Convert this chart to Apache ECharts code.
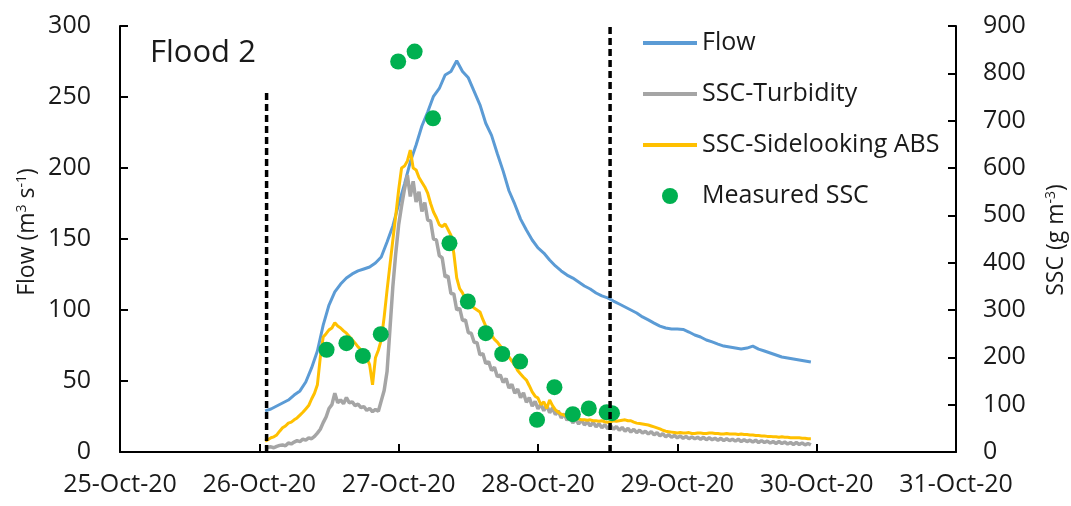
<!DOCTYPE html>
<html>
<head>
<meta charset="utf-8">
<script src="https://cdn.jsdelivr.net/npm/echarts@6/dist/echarts.min.js"></script>
<style>
  html, body { margin: 0; padding: 0; background: #fff; }
  #chart { width: 1071px; height: 506px; }
</style>
</head>
<body>
<div id="chart"></div>
<script>
// ---- time frame (UTC) ----
const HOUR = 3600000;
const DAY = 86400000;
const xStart = Date.UTC(2020, 9, 25);
const xEnd = Date.UTC(2020, 9, 31);

// Flow, hourly from 26-Oct-20 01:00 (m3 s-1)
const flowStart = Date.UTC(2020, 9, 26, 1);
const flowStepHours = 1;
const flow = [
  29.0, 30.3, 32.4, 34.5, 36.6, 40.1, 43.0, 49.3, 59.2, 71.1,
  89.4, 103.5, 112.7, 118.3, 122.5, 125.4, 127.5, 128.9, 130.3, 133.1,
  137.3, 147.9, 159.2, 174.6, 188.7, 204.2, 216.2, 229.6, 239.4, 250.5,
  256.0, 265.5, 268.0, 275.5, 268.0, 263.5, 254.0, 244.5, 231.5, 223.0,
  210.0, 197.8, 184.0, 174.5, 164.0, 156.3, 149.3, 143.7, 140.1, 135.2,
  131.0, 127.5, 124.6, 122.5, 119.7, 116.9, 114.8, 112.0, 109.9, 108.5,
  106.3, 104.2, 102.1, 100.0, 97.9, 95.1, 93.0, 90.8, 88.7, 87.3,
  86.6, 86.6, 86.3, 84.5, 82.4, 81.0, 78.9, 77.5, 76.0, 74.6,
  73.9, 73.2, 72.5, 73.2, 74.6, 72.5, 71.1, 69.7, 68.3, 66.9,
  66.2, 65.5, 64.8, 64.1, 63.4
];

// SSC series, half-hourly from 26-Oct-20 01:00 (g m-3)
const sscStart = Date.UTC(2020, 9, 26, 1);
const sscStepHours = 0.5;
const sscTurbidity = [
  8, 10, 11, 9, 12, 14, 15, 13, 19, 17,
  21, 24, 22, 27, 25, 30, 28, 33, 40, 48,
  62, 74, 92, 100, 124, 104, 110, 102, 115, 104,
  106, 98, 101, 94, 96, 88, 92, 85, 90, 86,
  108, 130, 170, 260, 350, 420, 480, 520, 555, 585,
  540, 572, 528, 550, 508, 527, 490, 488, 450, 448,
  415, 410, 370, 372, 335, 334, 300, 304, 278, 279,
  252, 251, 232, 231, 205, 208, 187, 191, 172, 179,
  159, 163, 147, 155, 135, 143, 124, 133, 115, 125,
  105, 115, 97, 107, 91, 101, 87, 99, 83, 93,
  79, 87, 72, 81, 67, 75, 61, 70, 59, 68,
  57, 64, 55, 63, 53, 60, 51, 58, 49, 56,
  48, 54, 46, 52, 44, 50, 42, 48, 41, 46,
  40, 44, 38, 43, 36, 41, 34, 39, 32, 37,
  31, 35, 30, 34, 29, 33, 28, 32, 28, 31,
  27, 31, 26, 30, 26, 29, 25, 29, 24, 28,
  24, 27, 23, 27, 22, 26, 22, 25, 21, 25,
  20, 24, 20, 23, 19, 22, 18, 22, 18, 21,
  17, 20, 16, 20, 16, 19, 15, 18, 15
];
const sscSidelooking = [
  23, 26, 30, 32, 36, 44, 51, 55, 61, 63,
  68, 72, 78, 84, 91, 98, 112, 124, 142, 200,
  243, 250, 258, 262, 273, 266, 262, 256, 251, 244,
  237, 230, 222, 216, 211, 200, 184, 142, 199, 215,
  237, 285, 342, 395, 448, 500, 554, 600, 604, 615,
  638, 600, 596, 580, 570, 560, 547, 525, 507, 495,
  480, 476, 482, 470, 458, 420, 368, 345, 336, 322,
  317, 310, 304, 300, 296, 280, 266, 255, 247, 238,
  232, 224, 216, 207, 201, 192, 184, 172, 165, 158,
  152, 140, 127, 118, 114, 100, 106, 92, 110, 98,
  89, 84, 80, 78, 76, 73, 72, 70, 70, 68,
  68, 67, 68, 66, 66, 65, 66, 64, 63, 64,
  66, 65, 66, 67, 68, 66, 66, 63, 61, 60,
  59, 58, 57, 55, 53, 51, 49, 46, 44, 43,
  42, 41, 40, 41, 40, 40, 41, 39, 39, 40,
  40, 39, 39, 40, 40, 39, 39, 38, 38, 39,
  38, 38, 38, 37, 38, 37, 37, 36, 36, 35,
  35, 34, 34, 33, 33, 32, 32, 31, 32, 31,
  31, 30, 30, 30, 30, 29, 29, 28, 28
];

// Sampled SSC
const measuredTimes = [
  '2020-10-26T11:35Z', '2020-10-26T15:00Z', '2020-10-26T17:50Z', '2020-10-26T20:55Z',
  '2020-10-26T23:55Z', '2020-10-27T02:45Z', '2020-10-27T05:55Z', '2020-10-27T08:45Z',
  '2020-10-27T11:55Z', '2020-10-27T15:00Z', '2020-10-27T17:50Z', '2020-10-27T20:55Z',
  '2020-10-27T23:50Z', '2020-10-28T02:50Z', '2020-10-28T06:00Z', '2020-10-28T08:45Z',
  '2020-10-28T11:50Z', '2020-10-28T12:45Z'
];
const measuredSsc = [216, 230, 203, 249, 825, 846, 705, 441, 318, 251, 207, 191, 68, 137, 80, 92, 84, 82];

// Flood event bounds (vertical dashed markers, flow axis)
const eventTimes = ['2020-10-26T01:15Z', '2020-10-28T12:25Z'];
const eventTops = [255, 300];

const monthNames = ['Jan','Feb','Mar','Apr','May','Jun','Jul','Aug','Sep','Oct','Nov','Dec'];
function dayLabel(v) {
  const d = new Date(v);
  const dd = String(d.getUTCDate()).padStart(2, '0');
  const yy = String(d.getUTCFullYear() % 100).padStart(2, '0');
  return dd + '-' + monthNames[d.getUTCMonth()] + '-' + yy;
}
function toPairs(start, stepHours, values) {
  return values.map((v, i) => [start + i * stepHours * HOUR, v]);
}

const FONT = 'Open Sans';
const TEXT = '#1a1a1a';
const axisLine = { show: true, lineStyle: { color: '#000', width: 2 } };
const axisTick = { show: true, inside: true, length: 8, lineStyle: { color: '#000', width: 2 } };
const linePath = 'path://M0,0h54v4h-54z';

const series = [
  {
    name: 'Flow', type: 'line', yAxisIndex: 0, showSymbol: false, symbol: 'none',
    data: toPairs(flowStart, flowStepHours, flow),
    lineStyle: { color: '#5B9BD5', width: 3 }, itemStyle: { color: '#5B9BD5' }, z: 2
  },
  {
    name: 'SSC-Turbidity', type: 'line', yAxisIndex: 1, showSymbol: false, symbol: 'none',
    data: toPairs(sscStart, sscStepHours, sscTurbidity),
    lineStyle: { color: '#A5A5A5', width: 3.5 }, itemStyle: { color: '#A5A5A5' }, z: 3
  },
  {
    name: 'SSC-Sidelooking ABS', type: 'line', yAxisIndex: 1, showSymbol: false, symbol: 'none',
    data: toPairs(sscStart, sscStepHours, sscSidelooking),
    lineStyle: { color: '#FFC000', width: 3 }, itemStyle: { color: '#FFC000' }, z: 4
  },
  {
    name: 'Measured SSC', type: 'scatter', yAxisIndex: 1, symbolSize: 16,
    data: measuredTimes.map((t, i) => [Date.parse(t), measuredSsc[i]]),
    itemStyle: { color: '#00B050', opacity: 1 }, z: 5
  }
];
eventTimes.forEach((t, i) => {
  const ts = Date.parse(t);
  series.push({
    name: 'event-' + i, type: 'line', yAxisIndex: 0, symbol: 'none', silent: true,
    data: [[ts, 0], [ts, eventTops[i]]],
    lineStyle: { color: '#000', width: 3.5, type: [7, 4] }, z: 6
  });
});

const chart = echarts.init(document.getElementById('chart'), null, { renderer: 'canvas' });
chart.setOption({
  animation: false,
  backgroundColor: '#fff',
  textStyle: { fontFamily: FONT },
  grid: { left: 120, right: 115, top: 26, bottom: 54, containLabel: false },
  legend: {
    orient: 'vertical', left: 638, top: 23,
    itemWidth: 54, itemHeight: 16, itemGap: 21,
    symbolKeepAspect: true, selectedMode: false,
    textStyle: { fontFamily: FONT, fontSize: 25, color: TEXT, lineHeight: 30 },
    data: [
      { name: 'Flow', icon: linePath },
      { name: 'SSC-Turbidity', icon: linePath },
      { name: 'SSC-Sidelooking ABS', icon: linePath },
      { name: 'Measured SSC', icon: 'circle' }
    ]
  },
  xAxis: {
    type: 'value', min: xStart, max: xEnd, interval: DAY,
    axisLine: axisLine, axisTick: axisTick, splitLine: { show: false },
    axisLabel: { formatter: dayLabel, fontFamily: FONT, fontSize: 25, color: TEXT, margin: 20, showMinLabel: true, showMaxLabel: true }
  },
  yAxis: [
    {
      type: 'value', position: 'left', min: 0, max: 300, interval: 50,
      axisLine: axisLine, axisTick: axisTick, splitLine: { show: false },
      axisLabel: { fontFamily: FONT, fontSize: 25, color: TEXT, margin: 29 }
    },
    {
      type: 'value', position: 'right', min: 0, max: 900, interval: 100,
      axisLine: axisLine, axisTick: axisTick, splitLine: { show: false },
      axisLabel: { fontFamily: FONT, fontSize: 25, color: TEXT, margin: 27 }
    }
  ],
  graphic: [
    {
      type: 'text', left: 150, top: 38,
      style: { text: 'Flood 2', fontFamily: FONT, fontSize: 31, fill: TEXT }
    },
    {
      type: 'text', x: 27, y: 232, rotation: Math.PI / 2,
      style: {
        text: 'Flow (m{sup|3} s{sup|-1})', fontFamily: FONT, fontSize: 23, fill: TEXT,
        align: 'center', verticalAlign: 'middle',
        rich: { sup: { fontFamily: FONT, fontSize: 14, verticalAlign: 'top', fill: TEXT } }
      }
    },
    {
      type: 'text', x: 1056, y: 240, rotation: Math.PI / 2,
      style: {
        text: 'SSC (g m{sup|-3})', fontFamily: FONT, fontSize: 23, fill: TEXT,
        align: 'center', verticalAlign: 'middle',
        rich: { sup: { fontFamily: FONT, fontSize: 14, verticalAlign: 'top', fill: TEXT } }
      }
    }
  ],
  series: series
});
</script>
</body>
</html>
